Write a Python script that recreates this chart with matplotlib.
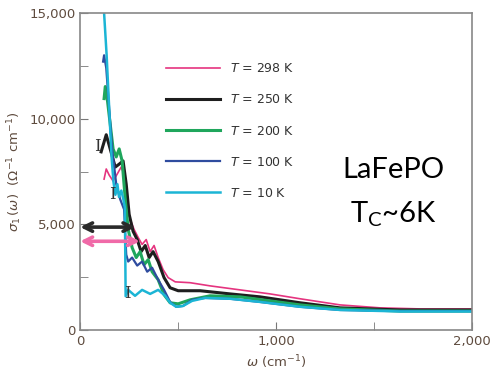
from matplotlib import pyplot as plt
from matplotlib.ticker import FuncFormatter, MultipleLocator
import numpy as np

# optical conductivity sigma_1(omega) of LaFePO
w_298 = [122, 133, 148, 168, 189, 209, 224, 240, 255, 275, 296, 316, 337, 357, 377, 398, 423, 449,
         485, 561, 663, 816, 969, 1122, 1326, 1530, 1734, 2000]
s_298 = [7140, 7620, 7330, 7050, 7380, 7710, 7380, 5950, 5240, 4760, 4380, 4050, 4280, 3710, 4000, 3430,
         2860, 2480, 2280, 2240, 2090, 1900, 1710, 1480, 1190, 1050, 1000, 1000]

w_250 = [107, 133, 153, 179, 199, 219, 235, 250, 270, 291, 311, 332, 352, 372, 398, 428, 459, 500,
         612, 765, 918, 1122, 1326, 1632, 2000]
s_250 = [8430, 9240, 8570, 7710, 7850, 8000, 6900, 5470, 4670, 4280, 3710, 4000, 3430, 3710, 3240,
         2480, 2000, 1860, 1860, 1710, 1570, 1290, 1050, 950, 950]

w_200 = [122, 128, 138, 153, 168, 184, 199, 214, 230, 245, 265, 286, 306, 326, 347, 367, 398, 428,
         459, 500, 561, 663, 816, 969, 1122, 1326, 1632, 2000]
s_200 = [10950, 11520, 10950, 9760, 8570, 8190, 8570, 8000, 6190, 4760, 3900, 3430, 3710, 3090, 3330,
         2760, 2380, 1670, 1290, 1240, 1430, 1620, 1570, 1380, 1190, 1000, 900, 900]

w_100 = [117, 122, 133, 148, 163, 184, 204, 224, 235, 245, 265, 291, 316, 342, 367, 398, 428, 459,
         490, 525, 571, 638, 765, 918, 1122, 1326, 1632, 2000]
s_100 = [12700, 13000, 12400, 10470, 8570, 6900, 6190, 5710, 3570, 3240, 3430, 3050, 3240, 2760, 2950,
         2380, 1900, 1330, 1100, 1140, 1430, 1520, 1480, 1330, 1100, 950, 900, 900]

w_10 = [122, 135, 148, 160, 170, 180, 190, 198, 210, 220, 228, 232, 245, 280, 316, 357, 398, 434,
        459, 490, 525, 571, 638, 765, 918, 1122, 1326, 1632, 2000]
s_10 = [15000, 13000, 10500, 8200, 7000, 6400, 6900, 6300, 6600, 6200, 5800, 1600, 1900, 1620, 1900,
        1710, 1900, 1620, 1290, 1100, 1140, 1380, 1520, 1480, 1330, 1100, 950, 880, 880]

labels = ['$T$ = 298 K', '$T$ = 250 K', '$T$ = 200 K', '$T$ = 100 K', '$T$ = 10 K']
colors = ['#e5347f', '#1e1e1e', '#1fa65c', '#2f4c9f', '#1cb5d5']
widths = [1.2, 2.2, 2.2, 1.6, 1.8]

# spectral weight arrows (start, end, level)
arrow_black = [0, 282, 4870]
arrow_pink = [0, 305, 4200]
# error bar markers
err_w = [86, 163, 240]
err_s = [8700, 6400, 1750]

tick_col = '#5e4b3e'

fig = plt.figure(figsize=(4.98, 3.82), dpi=100)
ax = fig.add_axes([0.161, 0.136, 0.787, 0.83])

curves = [(w_298, s_298), (w_250, s_250), (w_200, s_200), (w_100, s_100), (w_10, s_10)]
for (w, s), lab, c, lw in zip(curves, labels, colors, widths):
    ax.plot(w, s, color=c, lw=lw, label=lab)

ax.annotate('', xy=(arrow_black[0], arrow_black[2]), xytext=(arrow_black[1], arrow_black[2]),
            arrowprops=dict(arrowstyle='<->', color='#2a2a2a', lw=2.6, mutation_scale=15,
                            shrinkA=0, shrinkB=0))
ax.annotate('', xy=(arrow_pink[0], arrow_pink[2]), xytext=(arrow_pink[1], arrow_pink[2]),
            arrowprops=dict(arrowstyle='<->', color='#f06aa8', lw=2.6, mutation_scale=15,
                            shrinkA=0, shrinkB=0))

for w, s in zip(err_w, err_s):
    ax.text(w, s, 'I', family='DejaVu Serif', fontsize=12, color='#333333',
            ha='center', va='center')

ax.set_xlim(0, 2000)
ax.set_ylim(0, 15000)
ax.xaxis.set_major_locator(MultipleLocator(1000))
ax.xaxis.set_minor_locator(MultipleLocator(500))
ax.yaxis.set_major_locator(MultipleLocator(5000))
ax.yaxis.set_minor_locator(MultipleLocator(2500))
fmt = FuncFormatter(lambda v, p: '{:,.0f}'.format(v))
ax.xaxis.set_major_formatter(fmt)
ax.yaxis.set_major_formatter(fmt)
ax.tick_params(which='both', direction='in', colors='#777777', labelcolor=tick_col, labelsize=9.5)
ax.tick_params(which='major', length=6)
ax.tick_params(which='minor', length=6)
for sp in ax.spines.values():
    sp.set_color('#888888')
    sp.set_linewidth(1.2)

ax.set_xlabel(r'$\omega$ (cm$^{-1}$)', color=tick_col, fontsize=9.5)
ax.set_ylabel(r'$\sigma_1\,(\omega)$  ($\Omega^{-1}$ cm$^{-1}$)', color=tick_col, fontsize=9.5)

ax.legend(loc='upper left', bbox_to_anchor=(0.19, 0.88), frameon=False, fontsize=9,
          handlelength=4.3, handletextpad=0.8, labelspacing=1.45, labelcolor='#333333')

ax.text(0.80, 0.505, 'LaFePO', transform=ax.transAxes, fontsize=21, family='Lato',
        ha='center', va='center')
ax.text(0.80, 0.365, r'T$_\mathregular{C}$~6K', transform=ax.transAxes, fontsize=21, family='Lato',
        ha='center', va='center')

fig.savefig('out.png', dpi=100)
